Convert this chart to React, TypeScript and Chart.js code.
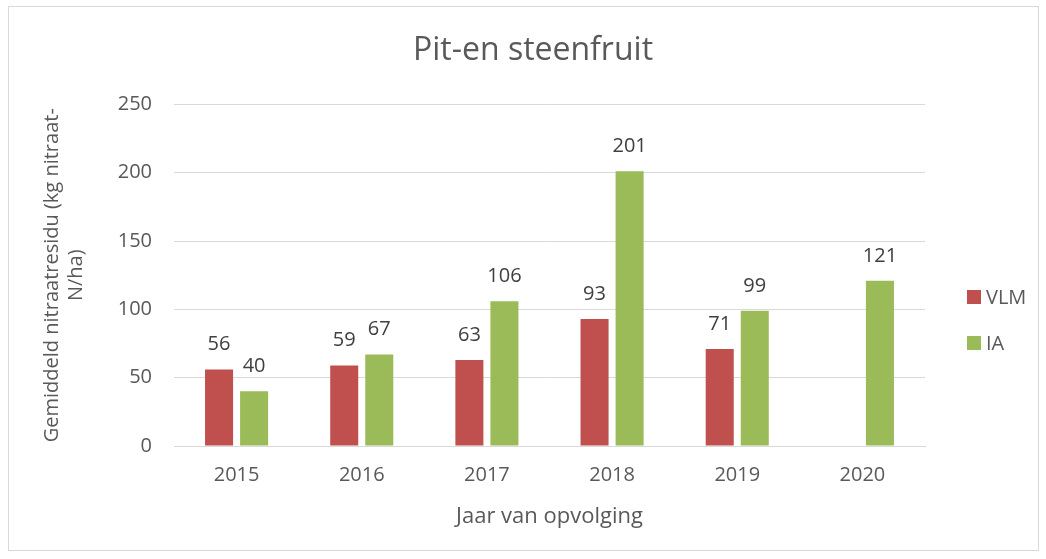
import React, { useEffect, useRef } from "react";
import { Chart, registerables } from "chart.js";

Chart.register(...registerables);

const categories = ["2015", "2016", "2017", "2018", "2019", "2020"];
const vlmValues: (number | null)[] = [56, 59, 63, 93, 71, null];
const iaValues: (number | null)[] = [40, 67, 106, 201, 99, 121];
const seriesNames = ["VLM", "IA"];
const seriesColors = ["#C0504D", "#9BBB59"];
const yTicks = [0, 50, 100, 150, 200, 250];

const FONT = "'Open Sans', 'DejaVu Sans', sans-serif";
const TEXT = "#595959";

const valueLabels = {
  id: "valueLabels",
  afterDatasetsDraw(chart: any) {
    const ctx = chart.ctx;
    ctx.save();
    ctx.font = `20px ${FONT}`;
    ctx.fillStyle = "#404040";
    ctx.textAlign = "center";
    ctx.textBaseline = "alphabetic";
    chart.data.datasets.forEach((ds: any, i: number) => {
      const meta = chart.getDatasetMeta(i);
      meta.data.forEach((el: any, j: number) => {
        const v = ds.data[j];
        if (v === null || v === undefined) return;
        ctx.fillText(String(v), el.x, el.y - 19);
      });
    });
    ctx.restore();
  },
};

const sideLegend = {
  id: "sideLegend",
  afterDraw(chart: any) {
    const ctx = chart.ctx;
    const x = chart.chartArea.right + 42;
    const y0 = 290;
    ctx.save();
    ctx.font = `20px ${FONT}`;
    ctx.textBaseline = "middle";
    ctx.textAlign = "left";
    chart.data.datasets.forEach((ds: any, i: number) => {
      const y = y0 + i * 46;
      ctx.fillStyle = ds.backgroundColor;
      ctx.fillRect(x, y, 14, 14);
      ctx.fillStyle = TEXT;
      ctx.fillText(ds.label, x + 19, y + 8);
    });
    ctx.restore();
  },
};

export default function App() {
  const ref = useRef<HTMLCanvasElement | null>(null);
  useEffect(() => {
    if (!ref.current) return;
    const chart = new Chart(ref.current, {
      type: "bar",
      data: {
        labels: categories,
        datasets: [
          { label: seriesNames[0], data: vlmValues, backgroundColor: seriesColors[0] },
          { label: seriesNames[1], data: iaValues, backgroundColor: seriesColors[1] },
        ],
      },
      options: {
        animation: false,
        responsive: false,
        layout: { padding: { left: 20, right: 0, top: 16, bottom: 0 } },
        datasets: { bar: { categoryPercentage: 0.56, barPercentage: 0.8 } } as any,
        plugins: {
          legend: { display: false },
          tooltip: { enabled: false },
          title: {
            display: true,
            text: "Pit-en steenfruit",
            color: TEXT,
            font: { family: FONT, size: 32, weight: "normal" as any, lineHeight: 1.2 },
            padding: { top: 16, bottom: 34 },
          },
        },
        scales: {
          x: {
            grid: { display: false, drawTicks: false },
            border: { display: true, color: "#d9d9d9" },
            ticks: { color: TEXT, font: { family: FONT, size: 20 }, padding: 17 },
            title: {
              display: true,
              text: "Jaar van opvolging",
              color: TEXT,
              font: { family: FONT, size: 22, lineHeight: 1.2 },
              padding: { top: 4, bottom: 29 },
            },
            afterFit: (s: any) => { s.height = 113; },
          },
          y: {
            min: 0,
            max: 250,
            afterBuildTicks: (s: any) => { s.ticks = yTicks.map((v) => ({ value: v })); },
            grid: { color: "#d9d9d9", drawTicks: false },
            border: { display: false },
            ticks: { color: TEXT, font: { family: FONT, size: 20 }, padding: 22 },
            title: {
              display: true,
              text: ["Gemiddeld nitraatresidu (kg nitraat-", "N/ha)"],
              color: TEXT,
              font: { family: FONT, size: 20, lineHeight: 1.2 },
              padding: { top: 20, bottom: 0 },
            },
            afterFit: (s: any) => { s.width = 154; },
          },
          yR: {
            position: "right",
            display: true,
            grid: { display: false, drawTicks: false },
            border: { display: false },
            ticks: { display: false },
            afterFit: (s: any) => { s.width = 121; },
          },
        },
      },
      plugins: [valueLabels, sideLegend],
    });
    return () => chart.destroy();
  }, []);

  return (
    <div style={{ position: "fixed", left: 0, top: 0, width: 1046, height: 559, background: "#fff" }}>
      <div
        style={{
          position: "absolute",
          left: 8,
          top: 6,
          width: 1031,
          height: 545,
          border: "1px solid #d9d9d9",
          boxSizing: "border-box",
        }}
      />
      <canvas ref={ref} width={1046} height={559} style={{ position: "absolute", left: 0, top: 0, width: 1046, height: 559 }} />
    </div>
  );
}
